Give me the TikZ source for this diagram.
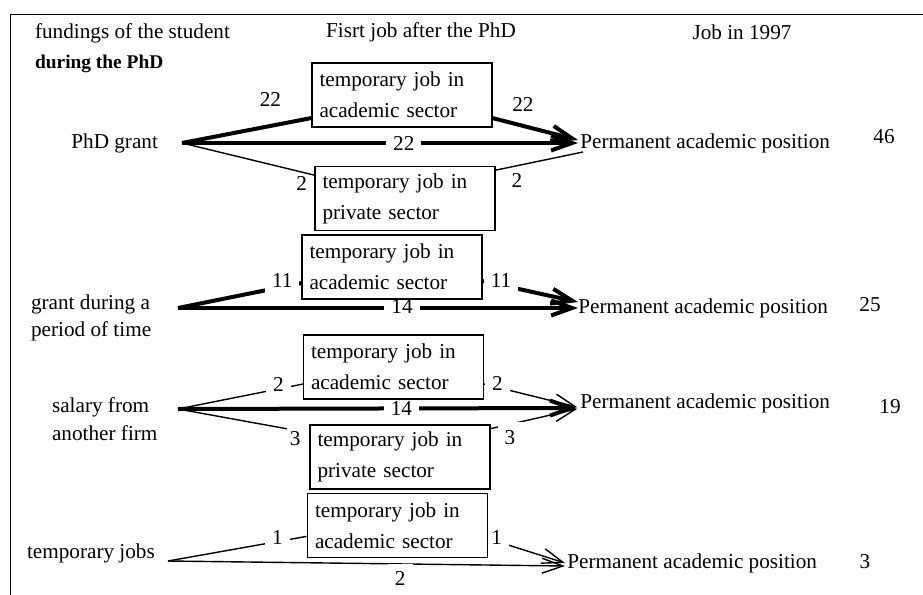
\documentclass[tikz,border=0pt]{standalone}
\usepackage{fontspec}
\setmainfont{Liberation Serif}
\usetikzlibrary{arrows.meta, positioning, calc}

\begin{document}
\begin{tikzpicture}[x=0.5pt, y=-0.5pt,
    every node/.style={font=\fontsize{10.6}{13.5}\selectfont},
    jobbox/.style={fill=white, align=left, text width=82.5pt, inner xsep=3.5pt, minimum height=31.5pt, font=\fontsize{10.6}{15.5}\selectfont},
    boxline/.style={line width=0.75pt},
    endpos/.style={anchor=west, inner sep=0pt},
    thickflow/.style={line width=2pt},
    thinflow/.style={line width=0.7pt},
    flowtip/.style={-{Straight Barb[length=10.5pt,width=7.5pt]}},
    flowlab/.style={fill=white, inner xsep=3.5pt, inner ysep=2.5pt}]
    \useasboundingbox (0,0) rectangle (923,595);
    \draw[line width=0.5pt] (923,14) -- (10,14) -- (10,595);

    \node[anchor=west] (headfund) at (28,33) {fundings of the student};
    \node[anchor=west, font=\fontsize{9.7}{12}\selectfont\bfseries] (headphd) at (28,64) {during the PhD};
    \node (headfirst) at (421,32) {Fisrt job after the PhD};
    \node (headjob) at (742,32) {Job in 1997};

    \node[anchor=east] (phdgrant) at (165,143) {PhD grant};
    \coordinate (s1) at (182,143);
    \node[anchor=west, align=left] (grant) at (24,318) {grant during a\\period of time};
    \coordinate (s2) at (178,308);
    \node[anchor=west, align=left, font=\fontsize{10.6}{14}\selectfont] (salary) at (45,419) {salary from\\another firm};
    \coordinate (s3) at (178,409);
    \node[anchor=west] (tempjobs) at (20,553) {temporary jobs};
    \coordinate (s4) at (168,561);

    \node[jobbox] (A1) at (402,95) {temporary job in\\academic sector};
    \node[jobbox] (P1) at (405,198.5) {temporary job in\\private sector};
    \node[jobbox] (A2) at (392,267) {temporary job in\\academic sector};
    \node[jobbox] (A3) at (393.5,367) {temporary job in\\academic sector};
    \node[jobbox] (P3) at (400,457) {temporary job in\\private sector};
    \node[jobbox] (A4) at (397.5,525.5) {temporary job in\\academic sector};

    \node[endpos] (T1) at (580,143) {Permanent academic position};
    \node[endpos] (T2) at (578,308) {Permanent academic position};
    \node[endpos] (T3) at (580,403) {Permanent academic position};
    \node[endpos] (T4) at (567,563) {Permanent academic position};

    \node (n46) at (884,137) {46};
    \node (n25) at (870,305) {25};
    \node (n19) at (890,407) {19};
    \node (n3) at (865,562) {3};

    \draw[thickflow] (s1) -- ($(A1.south west)+(0,-9)$) node[pos=.68, above=5.4pt] {22};
    \draw[thickflow, flowtip] ($(A1.south east)+(0,-9)$) -- ($(T1.west)+(-2,-3)$) node[pos=.36, above=3pt] {22};
    \draw[thickflow, flowtip] (s1) -- ($(T1.west)+(-2,0)$) node[pos=.56, flowlab] {22};
    \draw[thinflow] (s1) -- ($(P1.north west)+(0,9)$) node[pos=.9, below=-1.5pt] {2};
    \draw[thinflow] ($(P1.north east)+(0,4)$) -- ($(T1.west)+(3,9)$) node[pos=.25, below] {2};

    \draw[thickflow] (s2) -- ($(A2.south west)+(0,-16)$) node[pos=.84, flowlab, yshift=3pt] {11};
    \draw[thickflow, flowtip] ($(A2.south east)+(0,-18)$) -- ($(T2.west)+(0,-6)$) node[pos=.2, flowlab, yshift=2.5pt] {11};
    \draw[thickflow, flowtip] (s2) -- (T2.west) node[pos=.56, flowlab, yshift=1pt] {14};

    \draw[thinflow] (s3) -- ($(A3.south west)+(0,-15)$) node[pos=.8, flowlab, yshift=2pt] {2};
    \draw[thinflow, flowtip] ($(A3.south east)+(0,-15)$) -- ($(T3.west)+(-3,4)$) node[pos=.15, flowlab, yshift=2pt] {2};
    \draw[thickflow, flowtip] (s3) -- ($(T3.west)+(-3,5)$) node[pos=.56, flowlab] {14};
    \draw[thinflow] (s3) -- ($(P3.north west)+(-23,4)$) node[anchor=north west, inner sep=1pt] {3};
    \draw[thinflow, flowtip] ($(P3.north east)+(0,4)$) -- ($(T3.west)+(-3,6)$) node[pos=.23, flowlab, inner ysep=4pt, yshift=-6.5pt] {3};

    \draw[thinflow] (s4) -- ($(A4.south west)+(-1,-21)$) node[pos=.79, flowlab, yshift=2pt] {1};
    \draw[thinflow, flowtip] ($(A4.south east)+(0,-19)$) -- ($(T4.west)+(-2,0)$) node[pos=.12, flowlab, yshift=2pt] {1};
    \draw[thinflow, flowtip] (s4) -- ($(T4.west)+(-2,3)$) node[pos=.585, anchor=north, flowlab, inner ysep=4pt, yshift=0.5pt] {2};

    \foreach \b in {A1,P1,A2,A3,P3,A4}
      \draw[boxline] (\b.south west) rectangle (\b.north east);
\end{tikzpicture}
\end{document}
